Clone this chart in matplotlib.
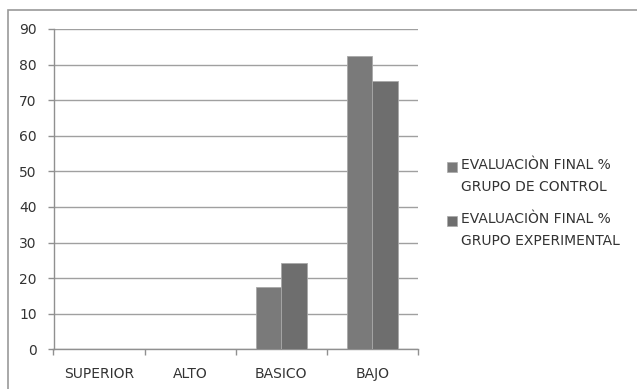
import matplotlib
matplotlib.use("Agg")
import matplotlib.pyplot as plt
import numpy as np
from matplotlib.patches import Rectangle

categories = ["SUPERIOR", "ALTO", "BASICO", "BAJO"]
control = [0, 0, 17.6, 82.4]
experimental = [0, 0, 24.3, 75.5]
labels = ["EVALUACIÒN FINAL %\nGRUPO DE CONTROL",
          "EVALUACIÒN FINAL %\nGRUPO EXPERIMENTAL"]
colors = ["#7a7a7a", "#6e6e6e"]

W, H = 637, 389
fig = plt.figure(figsize=(W / 100, H / 100), dpi=100)
ax = fig.add_axes([53.5 / W, (H - 349.3) / H, (418 - 53.5) / W, (349.3 - 29) / H])

# outer chart border (runs off right/bottom edges)
fig.patches.append(Rectangle((8 / W, -0.05), 1.0, (H - 10) / H + 0.05,
                             transform=fig.transFigure, fill=False,
                             edgecolor="#9a9a9a", linewidth=1.2))

x = np.arange(len(categories))
bw = 0.28
ax.bar(x - bw / 2, control, bw, color=colors[0], edgecolor="#a8a8a8",
       linewidth=0.6, zorder=3)
ax.bar(x + bw / 2, experimental, bw, color=colors[1], edgecolor="#a8a8a8",
       linewidth=0.6, zorder=3)

ax.set_xlim(-0.5, len(categories) - 0.5)
ax.set_ylim(0, 90)
ax.set_yticks(np.arange(0, 91, 10))
ax.yaxis.grid(True, color="#a0a0a0", linewidth=1.0, zorder=0)
ax.set_axisbelow(True)

ax.set_xticks(x)
ax.set_xticklabels(categories)
ax.set_xticks(np.arange(-0.5, len(categories)), minor=True)
ax.tick_params(axis="x", which="major", length=0, pad=13, labelsize=10, labelcolor="#333333")
ax.tick_params(axis="x", which="minor", length=4, color="#909090", width=1)
ax.tick_params(axis="y", length=4, color="#909090", width=1, pad=8,
               labelsize=10, labelcolor="#333333")

for s in ["top", "right"]:
    ax.spines[s].set_visible(False)
for s in ["left", "bottom"]:
    ax.spines[s].set_color("#909090")
    ax.spines[s].set_linewidth(1)

# legend: square aligned with first text line
for i, (lab, c) in enumerate(zip(labels, colors)):
    ytop = 162 + i * 54
    fig.patches.append(Rectangle((447 / W, 1 - (ytop + 10) / H), 10 / W, 10 / H,
                                 transform=fig.transFigure, facecolor=c,
                                 edgecolor="#a8a8a8", linewidth=0.5))
    fig.text(461 / W, 1 - (ytop - 4) / H, lab, fontsize=10, color="#333333",
             va="top", ha="left", linespacing=1.7)

fig.savefig("out.png", dpi=100)
